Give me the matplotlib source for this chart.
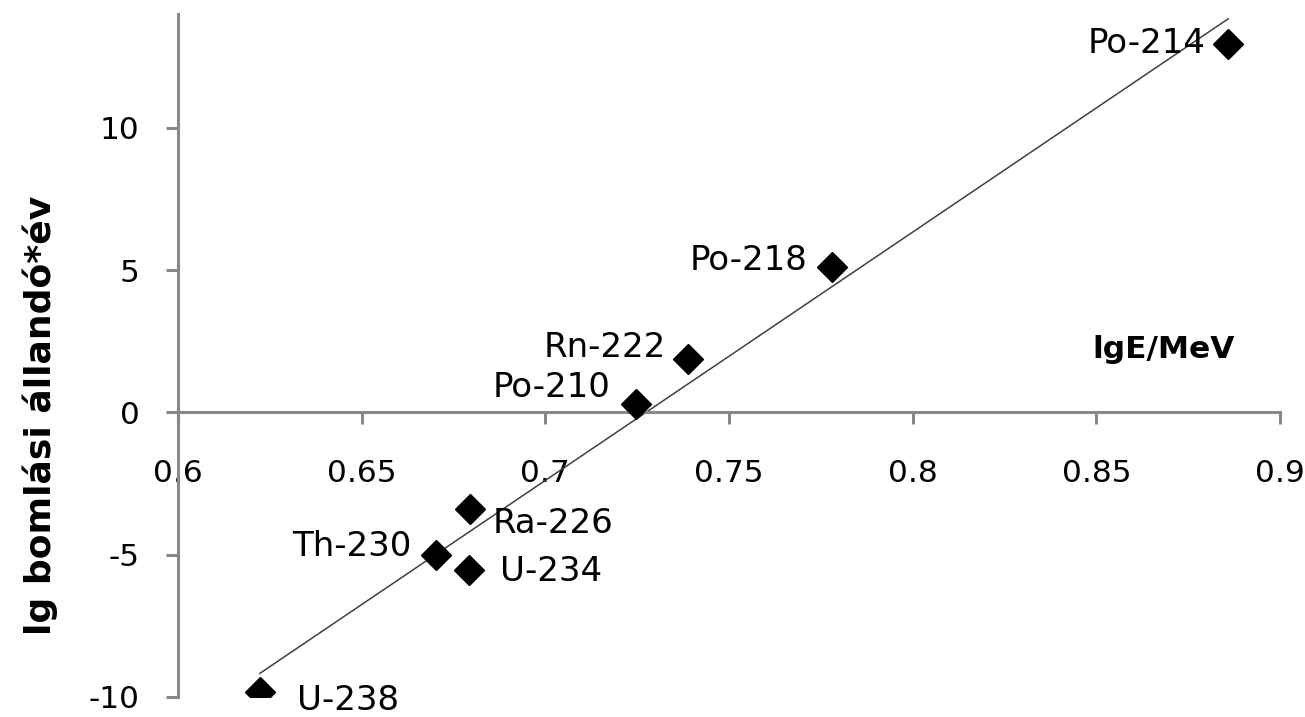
import matplotlib.pyplot as plt
import numpy as np

plt.rcParams["axes.unicode_minus"] = False

# lg E/MeV vs lg decay constant*year
isotopes = ["U-238", "Th-230", "U-234", "Ra-226", "Po-210", "Rn-222", "Po-218", "Po-214"]
lg_e = [0.6223, 0.6702, 0.6792, 0.6795, 0.7247, 0.7389, 0.7780, 0.8859]
lg_lambda = [-9.82, -5.00, -5.53, -3.38, 0.28, 1.87, 5.10, 12.96]

# label offsets in pixels (dx, dy, ha)
label_pos = {
    "U-238": (37, -9, "left"),
    "Th-230": (-24, 8, "right"),
    "U-234": (31, -2, "left"),
    "Ra-226": (23, -15, "left"),
    "Po-210": (-26, 17, "right"),
    "Rn-222": (-22, 12, "right"),
    "Po-218": (-24, 7, "right"),
    "Po-214": (-23, 0, "right"),
}

x_ticks = [0.6, 0.65, 0.7, 0.75, 0.8, 0.85, 0.9]
x_tick_labels = ["0.6", "0.65", "0.7", "0.75", "0.8", "0.85", "0.9"]
y_ticks = [-10, -5, 0, 5, 10]

axis_col = "#888888"

fig = plt.figure(figsize=(13.05, 7.17), dpi=100)
ax = fig.add_axes([178 / 1305, 1 - 697 / 717, (1280 - 178) / 1305, (697 - 14) / 717])

ax.plot(lg_e, lg_lambda, linestyle="none", marker="D", markersize=15.5,
        color="black", zorder=3)

# linear trendline over data range
k, b = np.polyfit(lg_e, lg_lambda, 1)
xt = np.array([min(lg_e), max(lg_e)])
ax.plot(xt, k * xt + b, color="#404040", linewidth=1.1, zorder=2)

for name, x, y in zip(isotopes, lg_e, lg_lambda):
    dx, dy, ha = label_pos[name]
    ax.annotate(name, (x, y), xytext=(dx, dy), textcoords="offset pixels",
                ha=ha, va="center", fontsize=24.5)

ax.set_xlim(0.6, 0.9)
ax.set_ylim(-10, 14)
ax.set_xticks(x_ticks)
ax.set_xticklabels(x_tick_labels)
ax.set_yticks(y_ticks)

for s in ["top", "right"]:
    ax.spines[s].set_visible(False)
ax.spines["bottom"].set_position(("data", 0))
for s in ["left", "bottom"]:
    ax.spines[s].set_color(axis_col)
    ax.spines[s].set_linewidth(2.2)
ax.tick_params(axis="both", colors=axis_col, width=2.2, length=8.6,
               labelcolor="black", labelsize=22.5)
ax.tick_params(axis="x", pad=25)
ax.tick_params(axis="y", pad=19)

ax.text(0.8878, 2.2, "lgE/MeV", ha="right", va="center", fontsize=22.5,
        fontweight="bold")
fig.text(40 / 1305, 1 - 415 / 717, "lg bomlási állandó*év", rotation=90,
         ha="center", va="center", fontsize=26, fontweight="bold")

fig.savefig("out.png", dpi=100)
